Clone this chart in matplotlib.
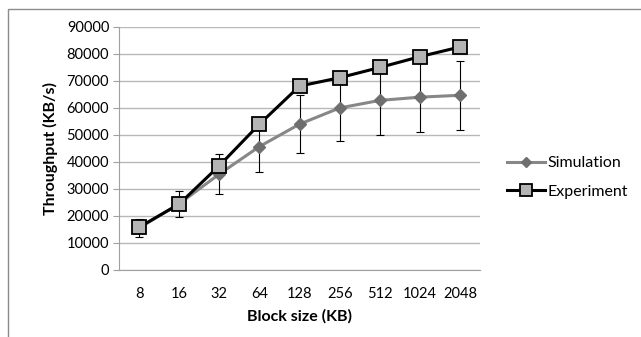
import numpy as np
import matplotlib.pyplot as plt
from matplotlib.patches import Rectangle

plt.rcParams['font.family'] = ['Lato', 'DejaVu Sans']

# Data
block_sizes = ['8', '16', '32', '64', '128', '256', '512', '1024', '2048']
simulation = [15500, 24500, 35500, 45700, 54000, 60000, 62800, 64000, 64700]
sim_err = [3400, 4900, 7300, 9300, 10800, 12400, 12800, 12900, 12700]
experiment = [15800, 24400, 38600, 54000, 68100, 71200, 75000, 79000, 82600]

fig = plt.figure(figsize=(6.41, 3.37), dpi=100)
ax = fig.add_axes([0.1856, 0.199, 0.5634, 0.721])

x = np.arange(len(block_sizes))

ax.errorbar(x, simulation, yerr=sim_err, fmt='none', ecolor='black',
            elinewidth=0.8, capsize=3, capthick=0.8, zorder=2)
ax.plot(x, simulation, color='#878787', linewidth=2.2, marker='D',
        markersize=6.5, markerfacecolor='#6f6f6f', markeredgecolor='#6f6f6f',
        label='Simulation', zorder=3)
ax.plot(x, experiment, color='black', linewidth=2.2, marker='s',
        markersize=10, markerfacecolor='#b4b4b4', markeredgecolor='black',
        markeredgewidth=1.3, label='Experiment', zorder=4)

ax.set_xlim(-0.5, len(block_sizes) - 0.5)
ax.set_ylim(0, 90000)
ax.set_yticks(np.arange(0, 90001, 10000))
ax.set_xticks(x)
ax.set_xticklabels(block_sizes)
ax.grid(axis='y', color='#b8b8b8', linewidth=1)
ax.set_axisbelow(True)

for s in ['top', 'right']:
    ax.spines[s].set_visible(False)
ax.spines['left'].set_color('#a0a0a0')
ax.spines['bottom'].set_color('#a0a0a0')
ax.tick_params(axis='y', length=4, color='#a0a0a0', labelsize=10.5, pad=3)
ax.tick_params(axis='x', length=0, labelsize=10.5, pad=12)

ax.set_xlabel('Block size (KB)', fontsize=11.5, fontweight='bold', labelpad=6)
ax.set_ylabel('Throughput (KB/s)', fontsize=11.5, fontweight='bold', labelpad=6)

ax.legend(loc='center left', bbox_to_anchor=(1.035, 0.38), frameon=False,
          fontsize=11.5, handlelength=2.4, handletextpad=0.15, labelspacing=0.9,
          markerscale=0.8)

fig.patches.append(Rectangle((0.013, -0.05), 1.2, 1.023, transform=fig.transFigure,
                             fill=False, edgecolor='#8c8c8c', linewidth=1))

plt.savefig('out.png', dpi=100)
